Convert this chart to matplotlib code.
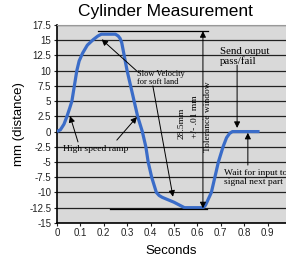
import matplotlib
matplotlib.use("Agg")
import matplotlib.pyplot as plt

# Data
time_s = [0.0, 0.015, 0.03, 0.043, 0.055, 0.064, 0.085, 0.095, 0.11, 0.13, 0.155, 0.175, 0.19,
          0.25, 0.262, 0.27, 0.277, 0.30, 0.33, 0.345, 0.365,
          0.38, 0.39, 0.405, 0.425, 0.437, 0.45, 0.50, 0.545, 0.625, 0.635, 0.66, 0.675, 0.69,
          0.71, 0.725, 0.738, 0.75, 0.866]
distance_mm = [0.0, 0.3, 1.2, 2.5, 3.9, 5.0, 10.0, 11.6, 12.9, 14.2, 15.1, 15.7, 16.0,
               16.0, 15.7, 15.3, 14.6, 10.0, 5.0, 2.5, 0.0,
               -2.5, -5.0, -7.5, -10.0, -10.5, -10.8, -11.6, -12.5, -12.5, -12.1, -10.0, -7.5, -5.0,
               -2.5, -1.0, -0.3, 0.0, 0.0]
x_ticks = [0, 0.1, 0.2, 0.3, 0.4, 0.5, 0.6, 0.7, 0.8, 0.9]
x_tick_labels = ["0", "0.1", "0.2", "0.3", "0.4", "0.5", "0.6", "0.7", "0.8", "0.9"]
y_ticks = [-15, -12.5, -10, -7.5, -5, -2.5, 0, 2.5, 5, 7.5, 10, 12.5, 15, 17.5]
y_tick_labels = ["-15", "-12.5", "-10", "-7.5", "-5", "-2.5", "0", "2.5", "5", "7.5", "10", "12.5", "15", "17.5"]

plt.rcParams['font.family'] = ['Liberation Sans', 'DejaVu Sans']
fig = plt.figure(figsize=(2.86, 2.61), dpi=100)
ax = fig.add_axes([0.199, 0.146, 0.801, 0.758])
ax.set_facecolor('#d9d9d9')
ax.set_xlim(0, 0.979)
ax.set_ylim(-15, 17.5)
for y in y_ticks:
    ax.axhline(y, color='#222222', lw=0.9, zorder=1)
ax.plot(time_s, distance_mm, color='#3a6cc8', lw=2.3, zorder=3, solid_joinstyle='round',
        solid_capstyle='butt')

ax.set_xticks(x_ticks)
ax.set_xticklabels(x_tick_labels)
ax.set_yticks(y_ticks)
ax.set_yticklabels(y_tick_labels)
ax.tick_params(labelsize=7, length=2, width=0.8, pad=2, colors='#222222')
ax.spines['right'].set_visible(False)
ax.spines['top'].set_color('#999999')
ax.spines['left'].set_linewidth(1.2)
ax.spines['bottom'].set_linewidth(1.2)

ax.set_xlabel("Seconds", fontsize=9.5, labelpad=5)
ax.set_ylabel("mm (distance)", fontsize=9.5, labelpad=3)
fig.text(0.577, 0.955, "Cylinder Measurement", ha='center', va='center', fontsize=12.5)

serif = ['Liberation Serif', 'DejaVu Serif']
arrow = dict(arrowstyle='-|>', color='black', lw=0.7, mutation_scale=9, shrinkA=0, shrinkB=0)

# Slow velocity
ax.text(0.342, 8.8, "Slow Velocity\nfor soft land", family=serif, fontsize=6, ha='left', va='center',
        linespacing=1.1, zorder=4)
ax.annotate("", xy=(0.191, 15.15), xytext=(0.34, 10.0), arrowprops=arrow, zorder=4)
ax.annotate("", xy=(0.496, -10.7), xytext=(0.41, 7.5), arrowprops=arrow, zorder=4)

# High speed ramp
ax.text(0.026, -2.85, "High speed ramp", family=serif, fontsize=6.8, ha='left', va='center', zorder=4)
ax.annotate("", xy=(0.056, 2.56), xytext=(0.09, -1.7), arrowprops=arrow, zorder=4)
ax.annotate("", xy=(0.342, 2.4), xytext=(0.256, -1.4), arrowprops=arrow, zorder=4)

# Tolerance window
ax.plot([0.175, 0.645], [16.5, 16.5], color='black', lw=0.9, zorder=4)
ax.plot([0.226, 0.64], [-12.7, -12.7], color='black', lw=0.9, zorder=4)
ax.annotate("", xy=(0.624, 16.5), xytext=(0.624, 2.0), arrowprops=arrow, zorder=4)
ax.annotate("", xy=(0.624, -12.6), xytext=(0.624, 2.0), arrowprops=arrow, zorder=4)
ax.text(0.534, 1.4, "28.5mm", family=serif, fontsize=6.8, rotation=90, ha='center', va='center', zorder=4)
ax.text(0.59, 2.4, "+/- .01 mm", family=serif, fontsize=6.8, rotation=90, ha='center', va='center', zorder=4)
ax.text(0.645, 2.4, "Tolerance window", family=serif, fontsize=6.8, rotation=90, ha='center', va='center', zorder=4)

# Send output
ax.text(0.697, 12.4, "Send ouput\npass/fail", family=serif, fontsize=7.8, ha='left', va='center',
        linespacing=1.05, zorder=4)
ax.annotate("", xy=(0.77, 0.6), xytext=(0.77, 10.9), arrowprops=arrow, zorder=4)

# Wait for input
ax.text(0.714, -7.5, "Wait for input to\nsignal next part", family=serif, fontsize=6.8, ha='left',
        va='center', linespacing=1.1, zorder=4)
ax.annotate("", xy=(0.816, -0.2), xytext=(0.816, -5.5), arrowprops=arrow, zorder=4)

fig.savefig("out.png", dpi=100)
